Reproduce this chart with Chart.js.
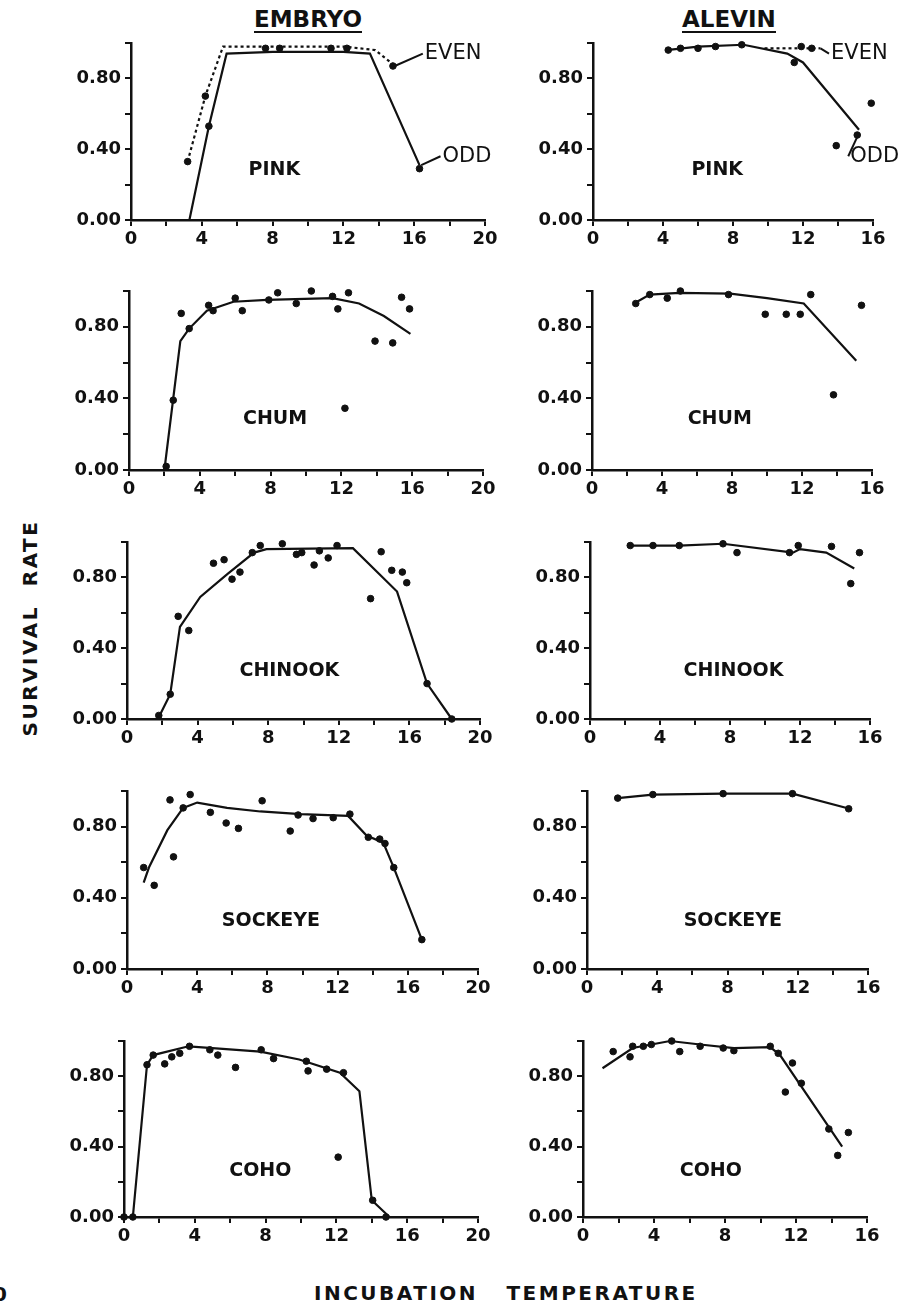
<!DOCTYPE html>
<html>
<head>
<meta charset="utf-8">
<script src="https://cdn.jsdelivr.net/npm/chart.js@4.4.1/dist/chart.umd.min.js"></script>
<style>
  body { margin: 0; background: #fff; }
  #wrap { position: relative; width: 901px; height: 1305px; overflow: hidden; font-family: "DejaVu Sans", sans-serif; color: #111; }
  canvas { position: absolute; }
  .title { position: absolute; top: 7px; font-weight: bold; font-size: 23px; line-height: 24px; border-bottom: 2px solid #111; padding-bottom: 0px; }
  .axlab { position: absolute; font-weight: bold; font-size: 20px; letter-spacing: 2.5px; white-space: pre; }
</style>
</head>
<body>
<div id="wrap">
  <div class="title" style="left:254px;">EMBRYO</div>
  <div class="title" style="left:682px;">ALEVIN</div>
  <div class="axlab" style="left:30px; top:628px; transform: translate(-50%, -50%) rotate(-90deg);">SURVIVAL  RATE</div>
  <div class="axlab" style="left:314px; top:1281px;">INCUBATION   TEMPERATURE</div>
  <div class="axlab" style="left:-7px; top:1282px; letter-spacing:0;">0</div>
</div>
<script>
// ---- data (temperature, survival rate) ----
const pinkEmbryoOddX = [3.3, 4.4, 5.4, 8, 12, 13.5, 16.3];
const pinkEmbryoOddY = [0.00, 0.53, 0.94, 0.95, 0.95, 0.94, 0.31];
const pinkEmbryoEvenX = [3.2, 4.2, 5.2, 8, 12, 13.8, 14.8];
const pinkEmbryoEvenY = [0.33, 0.70, 0.98, 0.98, 0.98, 0.96, 0.88];
const pinkEmbryoPtsX = [3.2, 4.2, 4.4, 7.6, 8.4, 11.3, 12.2, 14.8, 16.3];
const pinkEmbryoPtsY = [0.33, 0.70, 0.53, 0.97, 0.97, 0.97, 0.97, 0.87, 0.29];

const pinkAlevinOddX = [4.2, 6, 8.6, 11.1, 12.0, 15.2];
const pinkAlevinOddY = [0.96, 0.98, 0.99, 0.94, 0.89, 0.51];
const pinkAlevinEvenX = [9.8, 13.0];
const pinkAlevinEvenY = [0.97, 0.97];
const pinkAlevinPtsX = [4.3, 5.0, 6.0, 7.0, 8.5, 11.5, 11.9, 12.5, 13.9, 15.1, 15.9];
const pinkAlevinPtsY = [0.96, 0.97, 0.97, 0.98, 0.99, 0.89, 0.98, 0.97, 0.42, 0.48, 0.66];

const chumEmbryoLineX = [0, 2.0, 2.5, 2.9, 3.4, 4.4, 5.9, 7.8, 11.5, 13.0, 14.4, 15.9];
const chumEmbryoLineY = [0, 0, 0.40, 0.72, 0.79, 0.89, 0.94, 0.95, 0.96, 0.93, 0.86, 0.76];
const chumEmbryoPtsX = [2.1, 2.5, 2.95, 3.4, 4.5, 4.75, 6.0, 6.4, 7.9, 8.4, 9.45, 10.3, 11.5, 11.8, 12.4, 12.2, 13.9, 14.9, 15.4, 15.85];
const chumEmbryoPtsY = [0.02, 0.39, 0.875, 0.79, 0.92, 0.89, 0.96, 0.89, 0.95, 0.99, 0.93, 1.00, 0.97, 0.90, 0.99, 0.345, 0.72, 0.71, 0.965, 0.90];

const chumAlevinLineX = [2.4, 3.3, 5.0, 7.9, 10.0, 12.1, 15.1];
const chumAlevinLineY = [0.93, 0.98, 0.99, 0.985, 0.96, 0.93, 0.61];
const chumAlevinPtsX = [2.5, 3.3, 4.3, 5.05, 7.8, 9.9, 11.1, 11.9, 12.5, 13.8, 15.4];
const chumAlevinPtsY = [0.93, 0.98, 0.96, 1.00, 0.98, 0.87, 0.87, 0.87, 0.98, 0.42, 0.92];

const chinookEmbryoLineX = [1.8, 2.45, 3.0, 4.15, 5.7, 7.2, 7.9, 12.8, 15.3, 17.0, 18.4];
const chinookEmbryoLineY = [0.01, 0.14, 0.52, 0.69, 0.82, 0.94, 0.96, 0.965, 0.72, 0.20, 0.0];
const chinookEmbryoPtsX = [1.8, 2.45, 2.9, 3.5, 4.9, 5.5, 5.95, 6.4, 7.1, 7.55, 8.8, 9.6, 9.9, 10.6, 10.9, 11.4, 11.9, 13.8, 14.4, 15.0, 15.6, 15.85, 17.0, 18.4];
const chinookEmbryoPtsY = [0.02, 0.14, 0.58, 0.50, 0.88, 0.90, 0.79, 0.83, 0.94, 0.98, 0.99, 0.93, 0.94, 0.87, 0.95, 0.91, 0.98, 0.68, 0.945, 0.84, 0.83, 0.77, 0.20, 0.0];

const chinookAlevinLineX = [2.3, 5.1, 7.6, 11.6, 12.0, 13.5, 15.1];
const chinookAlevinLineY = [0.98, 0.98, 0.99, 0.94, 0.96, 0.94, 0.85];
const chinookAlevinPtsX = [2.3, 3.6, 5.1, 7.6, 8.4, 11.4, 11.9, 13.8, 14.9, 15.4];
const chinookAlevinPtsY = [0.98, 0.98, 0.98, 0.99, 0.94, 0.94, 0.98, 0.975, 0.765, 0.94];

const sockeyeEmbryoLineX = [0.95, 1.25, 2.3, 3.2, 4.0, 5.7, 7.6, 9.9, 12.6, 13.65, 14.6, 15.2, 16.8];
const sockeyeEmbryoLineY = [0.485, 0.57, 0.78, 0.905, 0.935, 0.905, 0.885, 0.87, 0.86, 0.75, 0.71, 0.57, 0.165];
const sockeyeEmbryoPtsX = [0.95, 1.55, 2.45, 2.65, 3.2, 3.6, 4.75, 5.65, 6.35, 7.7, 9.3, 9.75, 10.6, 11.75, 12.7, 13.75, 14.4, 14.7, 15.2, 16.8];
const sockeyeEmbryoPtsY = [0.57, 0.47, 0.95, 0.63, 0.905, 0.98, 0.88, 0.82, 0.79, 0.945, 0.775, 0.865, 0.845, 0.85, 0.87, 0.74, 0.73, 0.705, 0.57, 0.165];

const sockeyeAlevinLineX = [1.75, 3.75, 7.75, 11.7, 14.95];
const sockeyeAlevinLineY = [0.96, 0.98, 0.985, 0.985, 0.90];
const sockeyeAlevinPtsX = [1.75, 3.75, 7.75, 11.7, 14.9];
const sockeyeAlevinPtsY = [0.96, 0.98, 0.985, 0.985, 0.90];

const cohoEmbryoLineX = [0, 0.5, 1.3, 1.65, 3.65, 7.7, 9.9, 12.2, 13.3, 14.0, 15.0];
const cohoEmbryoLineY = [0, 0, 0.865, 0.92, 0.97, 0.94, 0.895, 0.82, 0.715, 0.095, 0];
const cohoEmbryoPtsX = [0, 0.5, 1.3, 1.65, 2.3, 2.7, 3.15, 3.7, 4.85, 5.3, 6.3, 7.75, 8.45, 10.3, 10.4, 11.45, 12.4, 12.1, 14.05, 14.8];
const cohoEmbryoPtsY = [0, 0, 0.865, 0.92, 0.87, 0.91, 0.93, 0.97, 0.95, 0.92, 0.85, 0.95, 0.90, 0.885, 0.83, 0.84, 0.82, 0.34, 0.095, 0];

const cohoAlevinLineX = [1.1, 2.8, 4.9, 6.6, 8.5, 10.55, 11.1, 14.6];
const cohoAlevinLineY = [0.845, 0.96, 1.0, 0.98, 0.96, 0.965, 0.92, 0.40];
const cohoAlevinPtsX = [1.7, 2.65, 2.8, 3.4, 3.85, 5.0, 5.45, 6.6, 7.9, 8.5, 10.55, 11.0, 11.4, 11.8, 12.3, 13.85, 14.35, 14.95];
const cohoAlevinPtsY = [0.94, 0.91, 0.97, 0.97, 0.98, 1.00, 0.94, 0.97, 0.96, 0.945, 0.97, 0.93, 0.71, 0.875, 0.76, 0.50, 0.35, 0.48];

const yTickLabels = [0, 0.4, 0.8];
const embryoXMax = 20, alevinXMax = 16;

// ---- layout of the plot boxes (page pixels) ----
const rowTop = [43, 291, 542, 791, 1041];
const rowBottom = [220, 470, 719, 969, 1217];
const colX0 = [[131, 129, 127, 127, 124], [593, 592, 590, 587, 583]];
const colX1 = [[485, 483, 480, 478, 478], [873, 872, 870, 868, 867]];
const YW = 72, PT = 10, XH = 36;
const colPR = [20, 30];
const INK = '#111';

const zip = (xs, ys) => xs.map((x, i) => ({x: x, y: ys[i]}));

const panels = [
  {row: 0, col: 0, xMax: embryoXMax, name: 'PINK', nameAt: [8.1, 0.28],
   lines: [[pinkEmbryoOddX, pinkEmbryoOddY], [pinkEmbryoEvenX, pinkEmbryoEvenY, true]],
   pts: [pinkEmbryoPtsX, pinkEmbryoPtsY],
   notes: [{text: 'EVEN', at: [16.6, 0.94], to: [14.9, 0.87]}, {text: 'ODD', at: [17.6, 0.36], to: [16.4, 0.31]}]},
  {row: 0, col: 1, xMax: alevinXMax, name: 'PINK', nameAt: [7.1, 0.28],
   lines: [[pinkAlevinOddX, pinkAlevinOddY], [pinkAlevinEvenX, pinkAlevinEvenY, true]],
   pts: [pinkAlevinPtsX, pinkAlevinPtsY],
   notes: [{text: 'EVEN', at: [13.6, 0.94], to: [13.0, 0.97]}, {text: 'ODD', at: [14.7, 0.36], to: [15.1, 0.47]}]},
  {row: 1, col: 0, xMax: embryoXMax, name: 'CHUM', nameAt: [8.25, 0.285],
   lines: [[chumEmbryoLineX, chumEmbryoLineY]], pts: [chumEmbryoPtsX, chumEmbryoPtsY]},
  {row: 1, col: 1, xMax: alevinXMax, name: 'CHUM', nameAt: [7.3, 0.285],
   lines: [[chumAlevinLineX, chumAlevinLineY]], pts: [chumAlevinPtsX, chumAlevinPtsY]},
  {row: 2, col: 0, xMax: embryoXMax, name: 'CHINOOK', nameAt: [9.2, 0.27],
   lines: [[chinookEmbryoLineX, chinookEmbryoLineY]], pts: [chinookEmbryoPtsX, chinookEmbryoPtsY]},
  {row: 2, col: 1, xMax: alevinXMax, name: 'CHINOOK', nameAt: [8.2, 0.27],
   lines: [[chinookAlevinLineX, chinookAlevinLineY]], pts: [chinookAlevinPtsX, chinookAlevinPtsY]},
  {row: 3, col: 0, xMax: embryoXMax, name: 'SOCKEYE', nameAt: [8.2, 0.27],
   lines: [[sockeyeEmbryoLineX, sockeyeEmbryoLineY]], pts: [sockeyeEmbryoPtsX, sockeyeEmbryoPtsY]},
  {row: 3, col: 1, xMax: alevinXMax, name: 'SOCKEYE', nameAt: [8.3, 0.27],
   lines: [[sockeyeAlevinLineX, sockeyeAlevinLineY]], pts: [sockeyeAlevinPtsX, sockeyeAlevinPtsY]},
  {row: 4, col: 0, xMax: embryoXMax, name: 'COHO', nameAt: [7.7, 0.26],
   lines: [[cohoEmbryoLineX, cohoEmbryoLineY]], pts: [cohoEmbryoPtsX, cohoEmbryoPtsY]},
  {row: 4, col: 1, xMax: alevinXMax, name: 'COHO', nameAt: [7.2, 0.26],
   lines: [[cohoAlevinLineX, cohoAlevinLineY]], pts: [cohoAlevinPtsX, cohoAlevinPtsY]}
];

// draws species name and EVEN/ODD pointers in data coordinates
const notesPlugin = {
  id: 'notes',
  afterDatasetsDraw(chart, args, opts) {
    const ctx = chart.ctx, xs = chart.scales.x, ys = chart.scales.y;
    ctx.save();
    ctx.fillStyle = INK;
    ctx.textBaseline = 'middle';
    ctx.font = 'bold 19px "DejaVu Sans"';
    ctx.textAlign = 'center';
    ctx.fillText(opts.name, xs.getPixelForValue(opts.nameAt[0]), ys.getPixelForValue(opts.nameAt[1]));
    ctx.font = '21px "DejaVu Sans"';
    ctx.textAlign = 'left';
    ctx.strokeStyle = INK;
    ctx.lineWidth = 2;
    (opts.notes || []).forEach(n => {
      const tx = xs.getPixelForValue(n.at[0]), ty = ys.getPixelForValue(n.at[1]);
      ctx.fillText(n.text, tx, ty);
      ctx.beginPath();
      ctx.moveTo(tx - 2, ty);
      ctx.lineTo(xs.getPixelForValue(n.to[0]), ys.getPixelForValue(n.to[1]));
      ctx.stroke();
    });
    ctx.restore();
  }
};

const wrap = document.getElementById('wrap');

panels.forEach(p => {
  const x0 = colX0[p.col][p.row], x1 = colX1[p.col][p.row];
  const top = rowTop[p.row], bottom = rowBottom[p.row];
  const PR = colPR[p.col];
  const cv = document.createElement('canvas');
  cv.width = YW + (x1 - x0) + PR;
  cv.height = PT + (bottom - top) + XH;
  cv.style.left = (x0 - YW) + 'px';
  cv.style.top = (top - PT) + 'px';
  wrap.appendChild(cv);

  const datasets = p.lines.map(l => ({
    data: zip(l[0], l[1]),
    showLine: true,
    borderColor: INK,
    borderWidth: 2.2,
    borderDash: l[2] ? [3, 3] : [],
    pointRadius: 0,
    clip: false
  }));
  datasets.push({
    data: zip(p.pts[0], p.pts[1]),
    showLine: false,
    backgroundColor: INK,
    borderColor: INK,
    pointRadius: 3.3,
    clip: false
  });

  new Chart(cv, {
    type: 'scatter',
    data: {datasets: datasets},
    plugins: [notesPlugin],
    options: {
      responsive: false,
      animation: false,
      devicePixelRatio: 1,
      layout: {padding: {top: PT, right: PR, left: 0, bottom: 0}},
      plugins: {
        legend: {display: false},
        tooltip: {enabled: false},
        notes: {name: p.name, nameAt: p.nameAt, notes: p.notes}
      },
      scales: {
        x: {
          type: 'linear', min: 0, max: p.xMax,
          border: {display: true, color: INK, width: 2.5},
          grid: {drawOnChartArea: false, drawTicks: true, tickLength: 6, color: INK, lineWidth: 2},
          ticks: {
            stepSize: 2, autoSkip: false, maxRotation: 0, padding: 3, color: INK,
            font: {family: 'DejaVu Sans', size: 18, weight: 'bold'},
            callback: v => (v % 4 === 0 ? String(v) : '')
          },
          afterFit: s => { s.height = XH; s.paddingLeft = 0; s.paddingRight = 0; }
        },
        y: {
          min: 0, max: 1,
          border: {display: true, color: INK, width: 2.5},
          grid: {drawOnChartArea: false, drawTicks: true, tickLength: 6, color: INK, lineWidth: 2},
          ticks: {
            stepSize: 0.2, autoSkip: false, padding: 4, color: INK,
            font: {family: 'DejaVu Sans', size: 18, weight: 'bold'},
            callback: v => (yTickLabels.some(t => Math.abs(v - t) < 1e-6) ? v.toFixed(2) : '')
          },
          afterFit: s => { s.width = YW; s.paddingTop = 0; s.paddingBottom = 0; }
        }
      }
    }
  });
});
</script>
</body>
</html>
